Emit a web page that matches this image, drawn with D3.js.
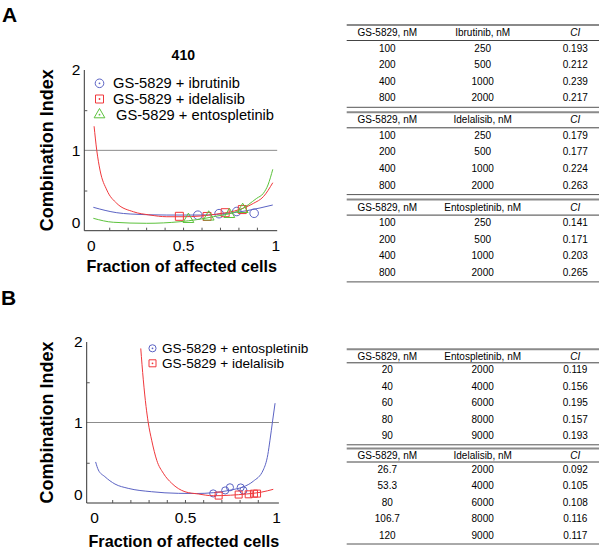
<!DOCTYPE html>
<html>
<head>
<meta charset="utf-8">
<script src="https://cdn.jsdelivr.net/npm/d3@7/dist/d3.min.js"></script>
<style>
body { margin: 0; background: #fff; }
svg { display: block; font-family: "Liberation Sans", Arial, Helvetica, sans-serif; }
</style>
</head>
<body>
<svg width="600" height="549"></svg>
<script>
// axis ticks
var faTicks = [0, 0.5, 1];
var faMinor = [0.1, 0.2, 0.3, 0.4, 0.5, 0.6, 0.7, 0.8, 0.9];
var ciTicks = [0, 1, 2];
var ciMinor = [0.5, 1.5];

// panel A, cell line 410 - measured points (fa, CI)
var aIbruFa = [0.58, 0.695, 0.791, 0.885];
var aIbruCi = [0.193, 0.212, 0.239, 0.217];
var aIdelFa = [0.48, 0.63, 0.728, 0.821];
var aIdelCi = [0.179, 0.177, 0.224, 0.263];
var aEntoFa = [0.529, 0.639, 0.751, 0.823];
var aEntoCi = [0.141, 0.171, 0.203, 0.265];

// panel A fitted curves
var aIbruCurve = [[0.014,0.291],[0.141,0.224],[0.213,0.208],[0.412,0.195],[0.592,0.195],
                  [0.772,0.224],[0.845,0.249],[0.917,0.283],[0.986,0.32]];
var aIdelCurve = [[0.018,1.30],[0.0325,1.0],[0.05,0.755],[0.087,0.506],[0.141,0.34],[0.231,0.236],
                  [0.321,0.195],[0.412,0.174],[0.502,0.174],[0.683,0.207],[0.809,0.266],
                  [0.881,0.34],[0.935,0.423],[0.986,0.597]];
var aEntoCurve = [[0.014,0.154],[0.122,0.105],[0.303,0.092],[0.484,0.112],[0.664,0.174],
                  [0.809,0.258],[0.899,0.403],[0.935,0.465],[0.96,0.569],[0.986,0.764]];

// panel B - measured points
var bEntoFa = [0.655, 0.721, 0.747, 0.821, 0.806];
var bEntoCi = [0.119, 0.156, 0.195, 0.157, 0.193];
var bIdelFa = [0.685, 0.795, 0.85, 0.879, 0.896];
var bIdelCi = [0.092, 0.105, 0.108, 0.116, 0.117];

var bEntoCurve = [[0.009,0.51],[0.024,0.41],[0.06,0.327],[0.115,0.236],[0.188,0.182],[0.317,0.14],
                  [0.463,0.12],[0.564,0.118],[0.655,0.128],[0.70,0.14],[0.76,0.165],[0.82,0.2],
                  [0.875,0.27],[0.93,0.41],[0.955,0.6],[0.967,0.78],[0.982,1.03],[0.995,1.24]];
var bIdelCurve = [[0.257,1.92],[0.271,1.53],[0.286,1.2],[0.298,1.0],[0.317,0.78],[0.345,0.53],
                  [0.381,0.37],[0.427,0.245],[0.5,0.14],[0.573,0.112],[0.655,0.09],[0.75,0.097],
                  [0.839,0.112],[0.92,0.135],[0.985,0.17]];

// tables
var aGsDose = ["100", "200", "400", "800"];
var aIbruDose = ["250", "500", "1000", "2000"];
var aIdelDose = ["250", "500", "1000", "2000"];
var aEntoDose = ["250", "500", "1000", "2000"];
var bGsEnto = ["20", "40", "60", "80", "90"];
var bEntoDose = ["2000", "4000", "6000", "8000", "9000"];
var bGsIdel = ["26.7", "53.3", "80", "106.7", "120"];
var bIdelDose = ["2000", "4000", "6000", "8000", "9000"];

var blue = "#5b63c4", red = "#f0383c", green = "#5cc23c";

var svg = d3.select("svg");

var drawPanel = function(p)
{
    var g = svg.append("g");
    var x = d3.scaleLinear().domain(p.xDomain).range(p.xRange);
    var y = d3.scaleLinear().domain([0, 2]).range(p.yRange);

    // reference line CI = 1
    g.append("line")
        .attr("x1", p.xRange[0]).attr("x2", p.xRange[1])
        .attr("y1", y(1)).attr("y2", y(1))
        .attr("stroke", "#8c8c8c").attr("stroke-width", 1);

    var xAxis = g.append("g")
        .attr("transform", "translate(0," + p.yRange[0] + ")")
        .call(d3.axisBottom(x).tickValues(faTicks).tickSize(0).tickPadding(9)
              .tickFormat(function(d){ return d == 0.5 ? "0.5" : d; }));
    xAxis.select(".domain").attr("stroke", "#333").attr("d", "M" + p.xRange[0] + ",0H" + p.xRange[1]);
    xAxis.selectAll("text").attr("font-size", 15.5).attr("font-family", "Liberation Sans, Arial").attr("fill", "#000");

    g.append("g")
        .attr("transform", "translate(0," + p.yRange[0] + ")")
        .call(d3.axisTop(x).tickValues(faMinor).tickSize(3).tickFormat(""))
        .call(function(s){ s.select(".domain").remove(); s.selectAll("line").attr("stroke", "#555"); });

    var yAxis = g.append("g")
        .attr("transform", "translate(" + p.xRange[0] + ",0)")
        .call(d3.axisLeft(y).tickValues(ciTicks).tickSize(0).tickPadding(4).tickFormat(d3.format("d")));
    yAxis.select(".domain").attr("stroke", "#333").attr("d", "M0," + p.yRange[1] + "V" + p.yRange[0]);
    yAxis.selectAll("text").attr("font-size", 15.5).attr("font-family", "Liberation Sans, Arial").attr("fill", "#000")
        .attr("dy", function(d){ return d == 0 ? "-0.2em" : "0.32em"; });

    g.append("g")
        .attr("transform", "translate(" + p.xRange[0] + ",0)")
        .call(d3.axisRight(y).tickValues(ciMinor).tickSize(3).tickFormat(""))
        .call(function(s){ s.select(".domain").remove(); s.selectAll("line").attr("stroke", "#555"); });

    var line = d3.line()
        .x(function(d){ return x(d[0]); })
        .y(function(d){ return y(d[1]); })
        .curve(d3.curveMonotoneX);

    p.series.forEach(function(s)
    {
        g.append("path")
            .attr("d", line(s.curve))
            .attr("fill", "none").attr("stroke", s.color).attr("stroke-width", 1);

        var pts = s.fa.map(function(f, i){ return [f, s.ci[i]]; });
        g.selectAll(null)
            .data(pts)
            .enter()
            .append("path")
            .attr("transform", function(d){ return "translate(" + x(d[0]) + "," + y(d[1]) + ")"; })
            .attr("d", d3.symbol().type(s.symbol).size(s.size))
            .attr("fill", "none").attr("stroke", s.color).attr("stroke-width", 1);
    });

    // legend
    p.series.forEach(function(s, i)
    {
        var ly = p.legend.y + i * p.legend.step;
        var lg = g.append("g").attr("transform", "translate(" + p.legend.x + "," + ly + ")");
        lg.append("path")
            .attr("d", d3.symbol().type(s.symbol).size(s.size))
            .attr("fill", "none").attr("stroke", s.color).attr("stroke-width", 1);
        lg.append("circle").attr("r", 0.9).attr("fill", s.color);
        lg.append("text")
            .attr("x", p.legend.dx + (s.symbol === d3.symbolTriangle ? 3 : 0))
            .attr("dy", "0.35em")
            .attr("font-size", p.legend.size)
            .text(s.name);
    });

    g.append("text")
        .attr("transform", "translate(" + p.yLabelX + "," + ((p.yRange[0] + p.yRange[1]) / 2) + ") rotate(-90)")
        .attr("text-anchor", "middle")
        .attr("font-weight", "bold").attr("font-size", 18)
        .text("Combination Index");

    g.append("text")
        .attr("x", (p.xRange[0] + p.xRange[1]) / 2 + 1).attr("y", p.xLabelY)
        .attr("text-anchor", "middle")
        .attr("font-weight", "bold").attr("font-size", 16.2)
        .text("Fraction of affected cells");

    svg.append("text")
        .attr("x", p.letterPos[0]).attr("y", p.letterPos[1])
        .attr("font-weight", "bold").attr("font-size", 21)
        .text(p.letter);
};

drawPanel({
    letter: "A", letterPos: [2, 22],
    xDomain: [-0.035, 1.01], xRange: [84.3, 277.2], yRange: [230.7, 70],
    yLabelX: 53, xLabelY: 271.5,
    legend: { x: 99.5, y: 83.3, step: 15.7, dx: 13.5, size: 14.7 },
    series: [
        { name: "GS-5829 + ibrutinib", fa: aIbruFa, ci: aIbruCi, curve: aIbruCurve, color: blue, symbol: d3.symbolCircle, size: 58 },
        { name: "GS-5829 + idelalisib", fa: aIdelFa, ci: aIdelCi, curve: aIdelCurve, color: red, symbol: d3.symbolSquare, size: 64 },
        { name: "GS-5829 + entospletinib", fa: aEntoFa, ci: aEntoCi, curve: aEntoCurve, color: green, symbol: d3.symbolTriangle, size: 50 }
    ]
});

svg.append("text")
    .attr("x", 183.3).attr("y", 60)
    .attr("text-anchor", "middle")
    .attr("font-weight", "bold").attr("font-size", 14)
    .text("410");

drawPanel({
    letter: "B", letterPos: [1, 305],
    xDomain: [-0.04, 1.016], xRange: [86.7, 278.9], yRange: [503, 342],
    yLabelX: 53, xLabelY: 546.5,
    legend: { x: 152.5, y: 348.3, step: 15, dx: 9.5, size: 13.6 },
    series: [
        { name: "GS-5829 + entospletinib", fa: bEntoFa, ci: bEntoCi, curve: bEntoCurve, color: blue, symbol: d3.symbolCircle, size: 40 },
        { name: "GS-5829 + idelalisib", fa: bIdelFa, ci: bIdelCi, curve: bIdelCurve, color: red, symbol: d3.symbolSquare, size: 49 }
    ]
});

// tables
var colX = [387.3, 482.7, 575.3];
var tableLeft = 346.7, tableRight = 599;

var drawBlock = function(top, head, rows, step, gap)
{
    var t = svg.append("g").attr("font-size", 10);
    var rule = function(yy, w, c)
    {
        t.append("line").attr("x1", tableLeft).attr("x2", tableRight)
            .attr("y1", yy).attr("y2", yy).attr("stroke", c).attr("stroke-width", w);
    };
    rule(top, 2, "#8a8a8a");
    head.forEach(function(h, i)
    {
        t.append("text").attr("x", colX[i]).attr("y", top + gap.head).attr("dy", "0.35em")
            .attr("text-anchor", "middle")
            .attr("font-style", i == 2 ? "italic" : "normal")
            .text(h);
    });
    rule(top + gap.mid, 1, "#444");
    rows.forEach(function(r, k)
    {
        r.forEach(function(v, i)
        {
            t.append("text").attr("x", colX[i]).attr("y", top + gap.row + k * step).attr("dy", "0.35em")
                .attr("text-anchor", "middle")
                .text(v);
        });
    });
    rule(top + gap.row + (rows.length - 1) * step + gap.bottom, 1, "#555");
};

var zipRows = function(a, b, c)
{
    return a.map(function(v, i){ return [v, b[i], c[i].toFixed(3)]; });
};

var gapA = { head: 7.5, mid: 15.5, row: 23, bottom: 9.5 };
drawBlock(25, ["GS-5829, nM", "Ibrutinib, nM", "CI"], zipRows(aGsDose, aIbruDose, aIbruCi), 16.6, gapA);
drawBlock(112.3, ["GS-5829, nM", "Idelalisib, nM", "CI"], zipRows(aGsDose, aIdelDose, aIdelCi), 16.6, gapA);
drawBlock(199.6, ["GS-5829, nM", "Entospletinib, nM", "CI"], zipRows(aGsDose, aEntoDose, aEntoCi), 16.6, gapA);

var gapB = { head: 7, mid: 13.5, row: 20.5, bottom: 9 };
drawBlock(349.3, ["GS-5829, nM", "Entospletinib, nM", "CI"], zipRows(bGsEnto, bEntoDose, bEntoCi), 16.5, gapB);
drawBlock(448.5, ["GS-5829, nM", "Idelalisib, nM", "CI"], zipRows(bGsIdel, bIdelDose, bIdelCi), 16.5, gapB);
</script>
</body>
</html>
